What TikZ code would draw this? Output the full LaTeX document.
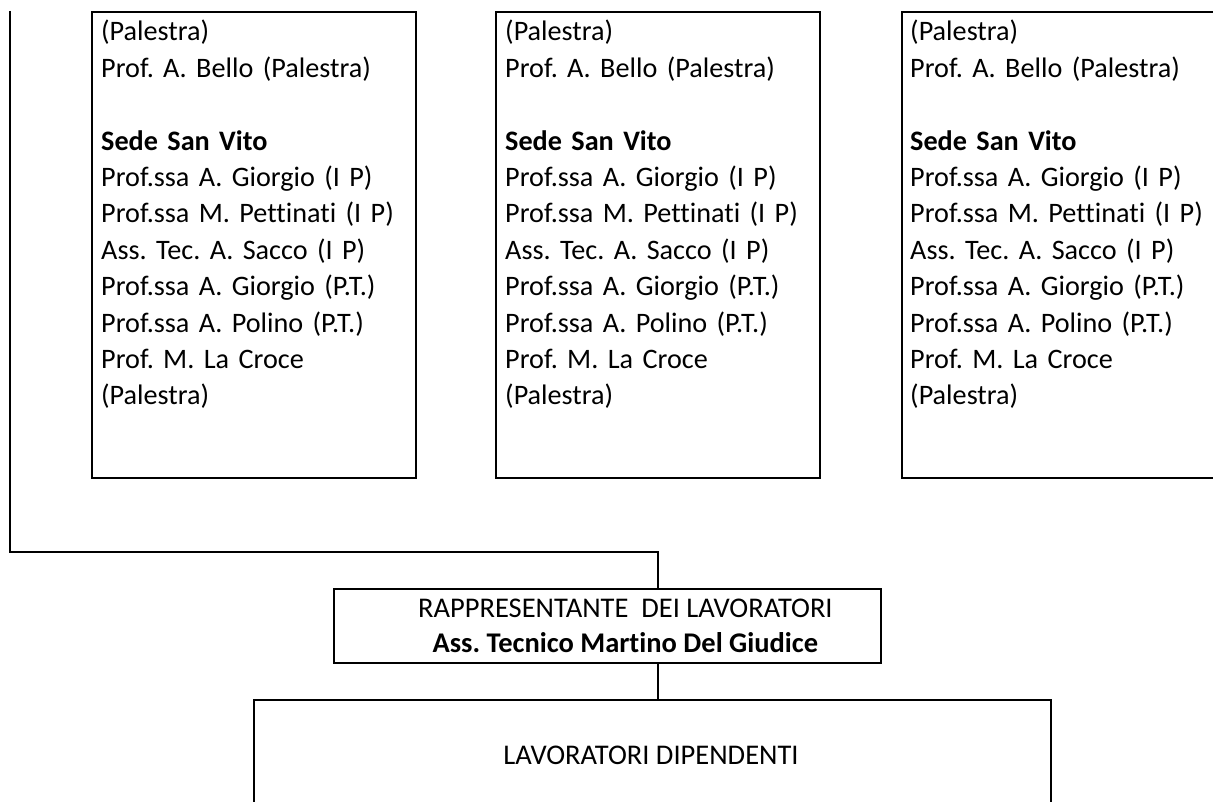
\documentclass[tikz,border=0pt]{standalone}
\usepackage{fontspec}
\setmainfont{Carlito}[Ligatures=NoCommon]
\frenchspacing
\begin{document}
\begin{tikzpicture}[x=1pt,y=1pt,
  frame/.style={draw,line width=1.8pt,anchor=north west,inner sep=0pt},
  listtxt/.style={anchor=north west,inner sep=0pt,align=left,text width=320pt,
    font=\fontsize{28.2}{36.4}\selectfont},
  centertxt/.style={inner sep=0pt,align=center,font=\fontsize{28.5}{35}\selectfont},
  link/.style={line width=1.8pt}]
\useasboundingbox (0,0) rectangle (1213,-802);
\newcommand{\boxlist}{(Palestra)\\Prof. A. Bello (Palestra)\\[36.4pt]\textbf{Sede San Vito}\\Prof.ssa A. Giorgio (I P)\\Prof.ssa M. Pettinati (I P)\\Ass. Tec. A. Sacco (I P)\\Prof.ssa A. Giorgio (P.T.)\\Prof.ssa A. Polino (P.T.)\\Prof. M. La Croce\\(Palestra)}
% three list boxes
\node[frame,minimum width=324pt,minimum height=466pt] (b1) at (91,-11) {};
\node[frame,minimum width=324pt,minimum height=466pt] (b2) at (495,-11) {};
\node[frame,minimum width=340pt,minimum height=466pt] (b3) at (901,-11) {};
\node[listtxt] (t1) at (101,-20) {\boxlist};
\node[listtxt] (t2) at (505,-20) {\boxlist};
\node[listtxt] (t3) at (910,-20) {\boxlist};
% representative box
\node[frame,minimum width=547pt,minimum height=74pt] (rep) at (333,-588) {};
\node[centertxt] (reptxt) at ([xshift=18pt]rep.center) {RAPPRESENTANTE\ \ DEI LAVORATORI\\\textbf{Ass. Tecnico Martino Del Giudice}};
% bottom box
\node[frame,minimum width=797pt,minimum height=140pt] (dep) at (253,-699) {};
\node[centertxt] (deptxt) at (651,-755) {LAVORATORI DIPENDENTI};
% connectors
\coordinate (ltop) at (10,-11);
\coordinate (jn) at (658,-552);
\draw[link] (ltop) |- (jn) -- (jn |- rep.north);
\draw[link] (jn |- rep.south) -- (jn |- dep.north);
\end{tikzpicture}
\end{document}
